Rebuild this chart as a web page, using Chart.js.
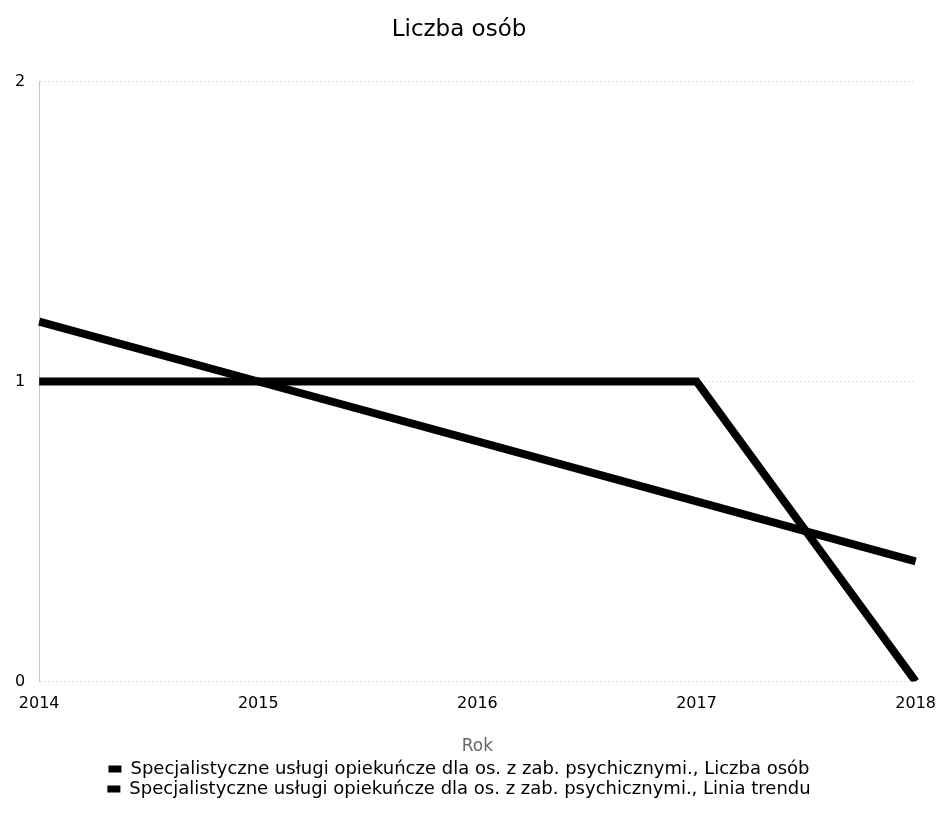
<!DOCTYPE html>
<html>
<head>
<meta charset="utf-8">
<script src="https://cdn.jsdelivr.net/npm/chart.js@4"></script>
<style>
  body { margin: 0; background: #fff; }
  #wrap { width: 941px; height: 831px; }
</style>
</head>
<body>
<div id="wrap"><canvas id="myChart"></canvas></div>
<script>
// Dane wykresu
var lata = ['2014', '2015', '2016', '2017', '2018'];
var liczbaOsob = [1, 1, 1, 1, 0];
var liniaTrendu = [1.2, 1.0, 0.8, 0.6, 0.4];
var etykietyY = [0, 1, 2];

var nazwaSerii = 'Specjalistyczne usługi opiekuńcze dla os. z zab. psychicznymi.';

Chart.defaults.font.family = '"DejaVu Sans", sans-serif';
Chart.defaults.color = '#000';

var ctx = document.getElementById('myChart').getContext('2d');
var myChart = new Chart(ctx, {
    type: 'line',
    data: {
        labels: lata,
        datasets: [{
            label: nazwaSerii + ', Liczba osób',
            data: liczbaOsob,
            borderColor: '#000',
            backgroundColor: '#000',
            borderWidth: 8,
            pointRadius: 0,
            tension: 0,
            borderJoinStyle: 'miter'
        }, {
            label: nazwaSerii + ', Linia trendu',
            data: liniaTrendu,
            borderColor: '#000',
            backgroundColor: '#000',
            borderWidth: 8,
            pointRadius: 0,
            tension: 0
        }]
    },
    options: {
        responsive: true,
        maintainAspectRatio: false,
        animation: false,
        layout: { padding: { left: 1, right: 24, top: 16, bottom: 23 } },
        plugins: {
            title: {
                display: true,
                text: 'Liczba osób',
                font: { size: 23, weight: 'normal' },
                padding: { top: 0, bottom: 38 }
            },
            legend: {
                position: 'bottom',
                labels: {
                    boxWidth: 13,
                    boxHeight: 7,
                    padding: 2,
                    font: { size: 18 },
                    // bez obramowania przy kwadraciku legendy
                    generateLabels: function (chart) {
                        var items = Chart.defaults.plugins.legend.labels.generateLabels(chart);
                        items.forEach(function (it) { it.lineWidth = 0; });
                        return items;
                    }
                }
            },
            tooltip: { enabled: false }
        },
        scales: {
            x: {
                offset: false,
                grid: { display: false },
                border: { display: false },
                ticks: { font: { size: 16 }, padding: 5, maxRotation: 0 },
                title: {
                    display: true,
                    text: 'Rok',
                    color: '#666',
                    font: { size: 17 },
                    padding: { top: 18, bottom: 1 }
                }
            },
            y: {
                min: 0,
                max: 2,
                afterBuildTicks: function (axis) {
                    axis.ticks = etykietyY.map(function (v) { return { value: v }; });
                },
                grid: {
                    color: '#c8c8c8',
                    lineWidth: 1,
                    drawTicks: false
                },
                border: { display: true, color: '#c8c8c8', dash: [1, 3] },
                ticks: { font: { size: 16 }, padding: 14 }
            }
        }
    }
});
</script>
</body>
</html>
